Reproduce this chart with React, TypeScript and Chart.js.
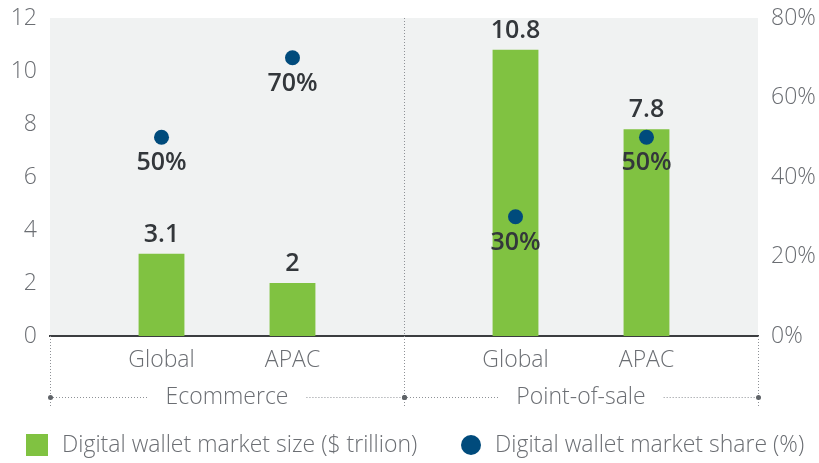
import React, { useEffect, useRef } from 'react';
import { Chart, registerables } from 'chart.js';

Chart.register(...registerables);

const groups = ['Ecommerce', 'Point-of-sale'];
const regions = ['Global', 'APAC'];
const globalSize = [3.1, 10.8];
const apacSize = [2, 7.8];
const globalShare = [50, 30];
const apacShare = [70, 50];
const sizeTicks = [0, 2, 4, 6, 8, 10, 12];
const shareTicks = [0, 20, 40, 60, 80];
const sizeLegend = 'Digital wallet market size ($ trillion)';
const shareLegend = 'Digital wallet market share (%)';

const GREEN = '#80C241';
const BLUE = '#004B7C';
const BG = '#F0F2F2';
const TICK = '#6B6E73';
const LABEL = '#33373B';
const DOT = '#8E9196';
const FONT = '"Open Sans", sans-serif';

const overlay = {
  id: 'overlay',
  beforeDraw(chart: any) {
    const { ctx, chartArea } = chart;
    ctx.save();
    ctx.fillStyle = BG;
    ctx.fillRect(chartArea.left, chartArea.top, chartArea.right - chartArea.left, chartArea.bottom - chartArea.top);
    ctx.restore();
  },
  afterDatasetsDraw(chart: any) {
    const { ctx, chartArea } = chart;
    const x = chart.scales.x;
    const yR = chart.scales.y2;
    const shares = [globalShare, apacShare];
    const sizes = [globalSize, apacSize];
    ctx.save();
    const bottomY = chartArea.bottom + 61;
    const mid = x.getPixelForValue(0.5);
    ctx.strokeStyle = DOT;
    ctx.lineWidth = 1;
    ctx.setLineDash([1, 2]);
    const vline = (px: number, y0: number, y1: number) => {
      ctx.beginPath();
      ctx.moveTo(Math.round(px) + 0.5, y0);
      ctx.lineTo(Math.round(px) + 0.5, y1);
      ctx.stroke();
    };
    vline(chartArea.left, chartArea.bottom, bottomY + 10);
    vline(mid, chartArea.top, bottomY + 10);
    vline(chartArea.right, chartArea.bottom, bottomY + 10);

    ctx.font = `300 23px ${FONT}`;
    ctx.textAlign = 'center';
    ctx.textBaseline = 'middle';
    const bounds = [[chartArea.left, mid], [mid, chartArea.right]];
    groups.forEach((g, i) => {
      const [l, r] = bounds[i];
      const c = (l + r) / 2;
      const w = ctx.measureText(g).width;
      ctx.setLineDash([1, 2]);
      ctx.strokeStyle = DOT;
      ctx.beginPath();
      ctx.moveTo(l, bottomY + 0.5);
      ctx.lineTo(c - w / 2 - 18, bottomY + 0.5);
      ctx.moveTo(c + w / 2 + 18, bottomY + 0.5);
      ctx.lineTo(r, bottomY + 0.5);
      ctx.stroke();
      ctx.setLineDash([]);
      ctx.fillStyle = '#5F6368';
      [l, r].forEach((px) => {
        ctx.beginPath();
        ctx.arc(Math.round(px) + 0.5, bottomY + 0.5, 2.5, 0, Math.PI * 2);
        ctx.fill();
      });
      ctx.fillStyle = TICK;
      ctx.fillText(g, c, bottomY);
    });

    regions.forEach((reg, d) => {
      const meta = chart.getDatasetMeta(d);
      meta.data.forEach((bar: any, i: number) => {
        ctx.font = `300 23px ${FONT}`;
        ctx.fillStyle = TICK;
        ctx.textAlign = 'center';
        ctx.textBaseline = 'middle';
        ctx.fillText(reg, bar.x, chartArea.bottom + 24);

        ctx.font = `600 25px ${FONT}`;
        ctx.fillStyle = LABEL;
        ctx.fillText(String(sizes[d][i]), bar.x, bar.y - 19);

        const py = yR.getPixelForValue(shares[d][i]);
        ctx.fillStyle = BLUE;
        ctx.beginPath();
        ctx.arc(bar.x, py, 7.5, 0, Math.PI * 2);
        ctx.fill();
        ctx.fillStyle = LABEL;
        ctx.fillText(shares[d][i] + '%', bar.x, py + 26);
      });
    });

    const ly = 445;
    ctx.fillStyle = GREEN;
    ctx.fillRect(26, ly - 11, 22, 22);
    ctx.font = `300 23px ${FONT}`;
    ctx.textAlign = 'left';
    ctx.textBaseline = 'middle';
    ctx.fillStyle = TICK;
    ctx.fillText(sizeLegend, 62, ly);
    ctx.fillStyle = BLUE;
    ctx.beginPath();
    ctx.arc(471, ly, 10, 0, Math.PI * 2);
    ctx.fill();
    ctx.fillStyle = TICK;
    ctx.fillText(shareLegend, 495, ly);
    ctx.restore();
  },
};

export default function App() {
  const ref = useRef<HTMLCanvasElement>(null);
  useEffect(() => {
    document.body.style.margin = '0';
    const fitY = (w: number) => (s: any) => {
      s.width = w;
      s.paddingTop = 0;
      s.paddingBottom = 0;
    };
    const chart = new Chart(ref.current!, {
      type: 'bar',
      data: {
        labels: groups,
        datasets: [
          { label: regions[0], data: globalSize, backgroundColor: GREEN, yAxisID: 'y' },
          { label: regions[1], data: apacSize, backgroundColor: GREEN, yAxisID: 'y' },
        ],
      },
      options: {
        responsive: false,
        animation: false,
        devicePixelRatio: 1,
        datasets: { bar: { categoryPercentage: 0.74, barPercentage: 0.35 } },
        layout: { padding: { top: 18, left: 0, right: 0, bottom: 0 } },
        plugins: { legend: { display: false }, tooltip: { enabled: false } },
        scales: {
          x: {
            grid: { display: false },
            border: { display: true, color: '#3B3D40', width: 2 },
            ticks: { display: false },
            afterFit: (s: any) => { s.height = 127; s.paddingLeft = 0; s.paddingRight = 0; },
          },
          y: {
            position: 'left',
            min: sizeTicks[0],
            max: sizeTicks[sizeTicks.length - 1],
            afterBuildTicks: (s: any) => { s.ticks = sizeTicks.map((v) => ({ value: v })); },
            grid: { display: false, drawTicks: false },
            border: { display: false },
            ticks: { color: TICK, padding: 13, font: { family: FONT, size: 23, weight: '300' } },
            afterFit: fitY(50),
          },
          y2: {
            position: 'right',
            min: shareTicks[0],
            max: shareTicks[shareTicks.length - 1],
            afterBuildTicks: (s: any) => { s.ticks = shareTicks.map((v) => ({ value: v })); },
            grid: { display: false, drawTicks: false },
            border: { display: false },
            ticks: {
              color: TICK,
              padding: 13,
              font: { family: FONT, size: 23, weight: '300' },
              callback: (v: any) => v + '%',
            },
            afterFit: fitY(61),
          },
        },
      },
      plugins: [overlay],
    });
    return () => chart.destroy();
  }, []);
  return (
    <div style={{ width: 819, height: 463 }}>
      <canvas ref={ref} width={819} height={463} />
    </div>
  );
}
